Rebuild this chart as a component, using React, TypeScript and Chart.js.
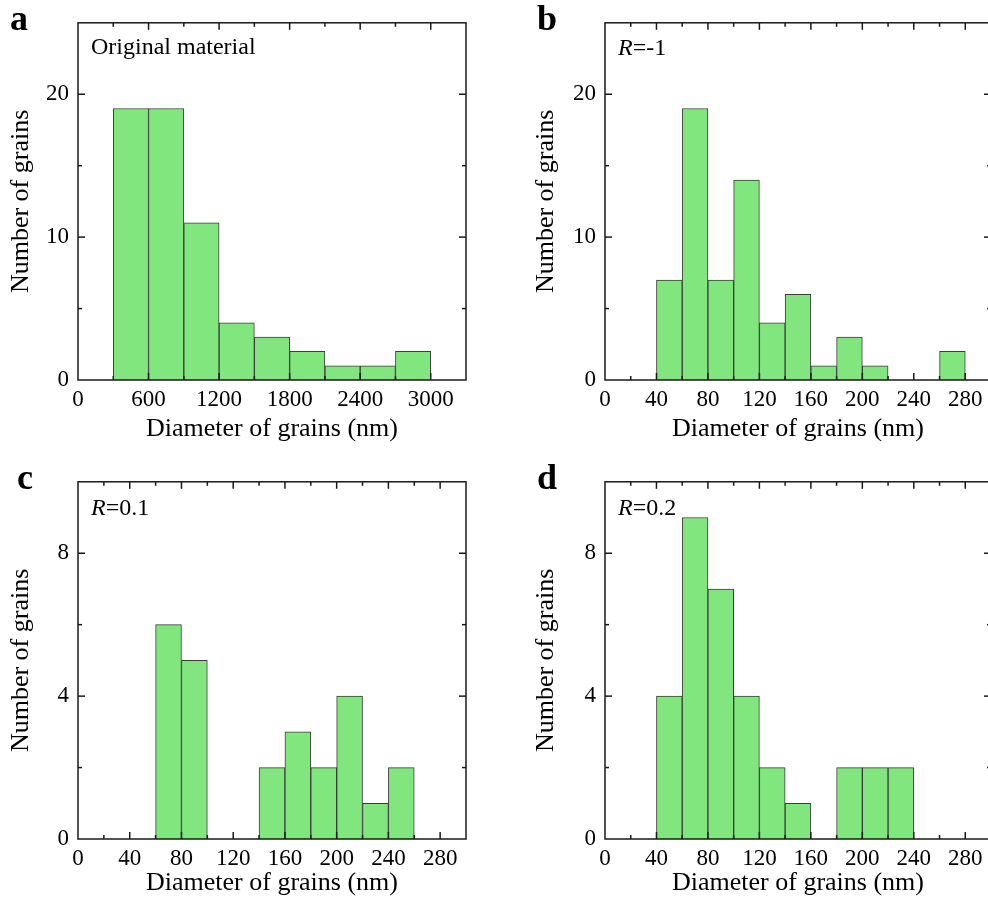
import React, { useEffect, useRef } from 'react';
import { Chart, registerables } from 'chart.js';

Chart.register(...registerables);

const FONT = "'Liberation Serif', 'Times New Roman', serif";
const BAR_FILL = 'rgb(130, 230, 126)';
const BAR_EDGE = '#3c3c3c';
const AXIS = '#1a1a1a';

// ---- data ----
const A_BIN_WIDTH = 300;
const A_BIN_START = [300, 600, 900, 1200, 1500, 1800, 2100, 2400, 2700];
const A_COUNTS = [19, 19, 11, 4, 3, 2, 1, 1, 2];

const B_BIN_WIDTH = 20;
const B_BIN_START = [40, 60, 80, 100, 120, 140, 160, 180, 200, 220, 240, 260];
const B_COUNTS = [7, 19, 7, 14, 4, 6, 1, 3, 1, 0, 0, 2];

const C_BIN_WIDTH = 20;
const C_BIN_START = [60, 80, 100, 120, 140, 160, 180, 200, 220, 240];
const C_COUNTS = [6, 5, 0, 0, 2, 3, 2, 4, 1, 2];

const D_BIN_WIDTH = 20;
const D_BIN_START = [40, 60, 80, 100, 120, 140, 160, 180, 200, 220];
const D_COUNTS = [4, 9, 7, 4, 2, 1, 0, 2, 2, 2];

const A_X_TICKS = [0, 600, 1200, 1800, 2400, 3000];
const NM_X_TICKS = [0, 40, 80, 120, 160, 200, 240, 280];
const AB_Y_TICKS = [0, 10, 20];
const CD_Y_TICKS = [0, 4, 8];

const X_TITLE = 'Diameter of grains (nm)';
const Y_TITLE = 'Number of grains';

const TICK_SIZE = 23;
const TITLE_SIZE = 26;
const LABEL_SIZE = 24;

type Panel = {
  letter: string;
  letterX: number;
  left: number;
  top: number;
  padRight: number;
  xMax: number;
  xTicks: number[];
  xMinor: number;
  yMax: number;
  yTicks: number[];
  yMinor: number;
  starts: number[];
  counts: number[];
  binWidth: number;
  italic: string;
  label: string;
  labelBase: number;
  xTitlePad: number;
  yTitlePad: number;
};

const PANELS: Panel[] = [
  { letter: 'a', letterX: 10, left: 0, top: 0, padRight: 28, xMax: 3300, xTicks: A_X_TICKS, xMinor: 300, yMax: 25, yTicks: AB_Y_TICKS, yMinor: 5, starts: A_BIN_START, counts: A_COUNTS, binWidth: A_BIN_WIDTH, italic: '', label: 'Original material', labelBase: 31, xTitlePad: 8, yTitlePad: 6 },
  { letter: 'b', letterX: 10, left: 527, top: 0, padRight: 30, xMax: 300, xTicks: NM_X_TICKS, xMinor: 20, yMax: 25, yTicks: AB_Y_TICKS, yMinor: 5, starts: B_BIN_START, counts: B_COUNTS, binWidth: B_BIN_WIDTH, italic: 'R', label: '=-1', labelBase: 32, xTitlePad: 8, yTitlePad: 4 },
  { letter: 'c', letterX: 17, left: 0, top: 459, padRight: 28, xMax: 300, xTicks: NM_X_TICKS, xMinor: 20, yMax: 10, yTicks: CD_Y_TICKS, yMinor: 2, starts: C_BIN_START, counts: C_COUNTS, binWidth: C_BIN_WIDTH, italic: 'R', label: '=0.1', labelBase: 33, xTitlePad: 13, yTitlePad: 6 },
  { letter: 'd', letterX: 10, left: 527, top: 459, padRight: 30, xMax: 300, xTicks: NM_X_TICKS, xMinor: 20, yMax: 10, yTicks: CD_Y_TICKS, yMinor: 2, starts: D_BIN_START, counts: D_COUNTS, binWidth: D_BIN_WIDTH, italic: 'R', label: '=0.2', labelBase: 33, xTitlePad: 13, yTitlePad: 4 },
];

const decorPlugin = {
  id: 'decor',
  afterDatasetsDraw(chart: any, _args: any, opts: any) {
    const p: Panel = opts.panel;
    const { ctx, chartArea } = chart;
    const { left, right, top, bottom } = chartArea;
    const xs = chart.scales.x;
    const ys = chart.scales.y;
    ctx.save();
    ctx.strokeStyle = AXIS;
    ctx.lineWidth = 1.5;
    const line = (x1: number, y1: number, x2: number, y2: number) => {
      ctx.beginPath();
      ctx.moveTo(x1, y1);
      ctx.lineTo(x2, y2);
      ctx.stroke();
    };
    const majorX = p.xTicks[1] - p.xTicks[0];
    const majorY = p.yTicks[1] - p.yTicks[0];
    for (let v = p.xMinor; v < p.xMax - 1e-9; v += p.xMinor) {
      const px = xs.getPixelForValue(v);
      const len = Math.abs(v / majorX - Math.round(v / majorX)) < 1e-6 ? 7 : 4;
      line(px, bottom, px, bottom - len);
      line(px, top, px, top + len);
    }
    for (let v = p.yMinor; v < p.yMax - 1e-9; v += p.yMinor) {
      const py = ys.getPixelForValue(v);
      const len = Math.abs(v / majorY - Math.round(v / majorY)) < 1e-6 ? 7 : 4;
      line(left, py, left + len, py);
      line(right, py, right - len, py);
    }
    ctx.strokeRect(left, top, right - left, bottom - top);
    ctx.restore();
  },
  afterDraw(chart: any, _args: any, opts: any) {
    const p: Panel = opts.panel;
    const { ctx, chartArea } = chart;
    ctx.save();
    ctx.fillStyle = '#000';
    ctx.textBaseline = 'alphabetic';
    ctx.textAlign = 'left';
    let x = chartArea.left + 13;
    const y = chartArea.top + p.labelBase;
    if (p.italic) {
      ctx.font = `italic ${LABEL_SIZE}px ${FONT}`;
      ctx.fillText(p.italic, x, y);
      x += ctx.measureText(p.italic).width;
    }
    ctx.font = `${LABEL_SIZE}px ${FONT}`;
    ctx.fillText(p.label, x, y);
    ctx.font = `bold 36px ${FONT}`;
    ctx.fillText(p.letter, p.letterX, 30);
    ctx.restore();
  },
};

function HistPanel({ p }: { p: Panel }) {
  const ref = useRef<HTMLCanvasElement>(null);
  useEffect(() => {
    if (!ref.current) return;
    const data = p.starts
      .map((s, i) => ({ x: s + p.binWidth / 2, y: p.counts[i] }))
      .filter((d) => d.y > 0);
    const chart = new Chart(ref.current, {
      type: 'bar',
      data: {
        datasets: [
          {
            data,
            backgroundColor: BAR_FILL,
            borderColor: BAR_EDGE,
            borderWidth: 1,
            barPercentage: 1,
            categoryPercentage: 1,
          } as any,
        ],
      },
      options: {
        responsive: false,
        animation: false,
        devicePixelRatio: 1,
        layout: { padding: { left: 0, top: 18, right: p.padRight, bottom: 0 } },
        plugins: {
          legend: { display: false },
          tooltip: { enabled: false },
          decor: { panel: p },
        } as any,
        scales: {
          x: {
            type: 'linear',
            min: 0,
            max: p.xMax,
            offset: false,
            grid: { display: false, drawTicks: false, offset: false },
            border: { display: false },
            ticks: {
              font: { family: FONT, size: TICK_SIZE },
              color: '#000',
              padding: 6,
              maxRotation: 0,
              autoSkip: false,
              callback: (v: any) => String(v),
            },
            afterBuildTicks: (s: any) => {
              s.ticks = p.xTicks.map((v) => ({ value: v }));
            },
            afterFit: (s: any) => {
              s.height = 73;
            },
            title: {
              display: true,
              text: X_TITLE,
              font: { family: FONT, size: TITLE_SIZE },
              color: '#000',
              padding: { top: 0, bottom: p.xTitlePad },
            },
          },
          y: {
            type: 'linear',
            min: 0,
            max: p.yMax,
            grid: { display: false, drawTicks: false },
            border: { display: false },
            ticks: {
              font: { family: FONT, size: TICK_SIZE },
              color: '#000',
              padding: 9,
              autoSkip: false,
              callback: (v: any) => String(v),
            },
            afterBuildTicks: (s: any) => {
              s.ticks = p.yTicks.map((v) => ({ value: v }));
            },
            afterFit: (s: any) => {
              s.width = 78;
            },
            title: {
              display: true,
              text: Y_TITLE,
              font: { family: FONT, size: TITLE_SIZE },
              color: '#000',
              padding: { top: p.yTitlePad, bottom: 0 },
            },
          },
        },
      } as any,
      plugins: [decorPlugin],
    });
    return () => chart.destroy();
  }, [p]);
  return (
    <canvas
      ref={ref}
      width={494}
      height={453}
      style={{ position: 'absolute', left: p.left, top: p.top, width: 494, height: 453 }}
    />
  );
}

export default function App() {
  return (
    <div
      style={{
        position: 'fixed',
        left: 0,
        top: 0,
        width: 988,
        height: 907,
        overflow: 'hidden',
        background: '#fff',
      }}
    >
      {PANELS.map((p) => (
        <HistPanel key={p.letter} p={p} />
      ))}
    </div>
  );
}
